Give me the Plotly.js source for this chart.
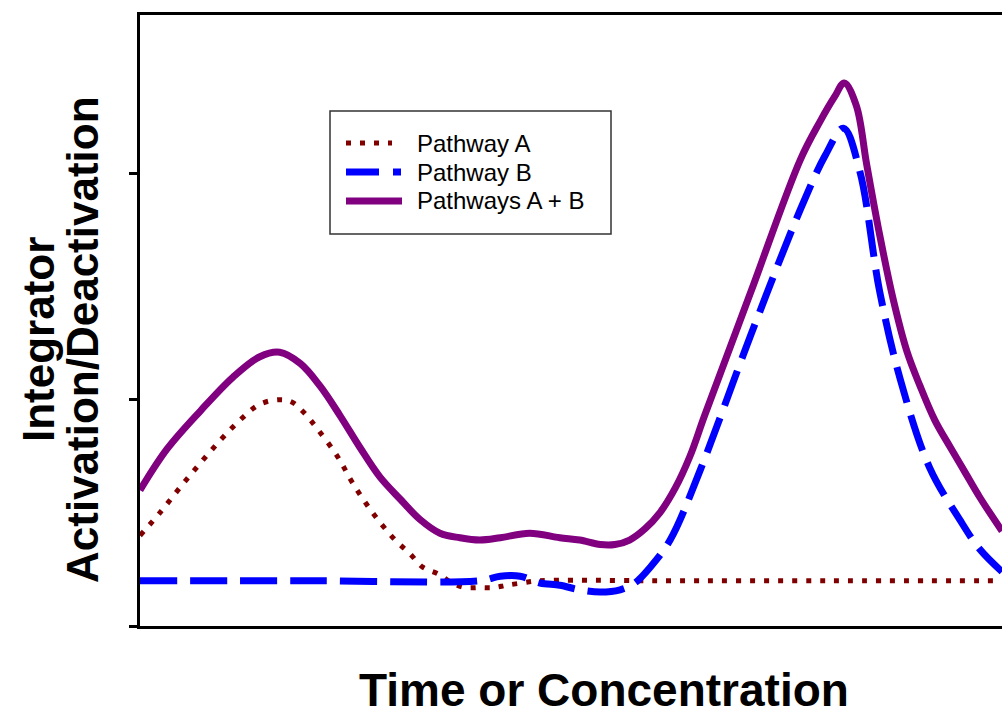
<!DOCTYPE html>
<html>
<head>
<meta charset="utf-8">
<script src="https://cdn.plot.ly/plotly-3.0.1.min.js"></script>
<style>
html, body { margin: 0; padding: 0; background: #ffffff; }
#chart { width: 1002px; height: 718px; }
</style>
</head>
<body>
<div id="chart"></div>
<script>
// ---- Data (x in arbitrary time/concentration units 0..100) ----
var seriesNames = ["Pathway A", "Pathway B", "Pathways A + B"];

var pathwayA_x = [0, 2.3, 4.6, 7.0, 9.3, 11.6, 13.9, 16.2, 17.6, 19.1, 20.6, 22.9, 24.7, 27.0, 29.6, 31.3, 32.8, 34.6, 36.2, 37.7, 39.4, 41.1, 42.5, 44.3, 46.4, 60, 80, 100];
var pathwayA_y = [0.40, 0.50, 0.61, 0.72, 0.82, 0.91, 0.98, 1.00, 0.99, 0.94, 0.87, 0.75, 0.63, 0.50, 0.38, 0.32, 0.26, 0.23, 0.19, 0.17, 0.17, 0.17, 0.18, 0.19, 0.20, 0.20, 0.20, 0.20];

var pathwayB_x = [0, 20, 39.4, 41.8, 44.1, 46.4, 48.7, 51.0, 53.4, 55.7, 57.4, 59.2, 61.5, 65.0, 70.8, 76.6, 79.5, 81.6, 83.5, 85.8, 88.2, 91.6, 95.1, 97.4, 100];
var pathwayB_y = [0.20, 0.20, 0.20, 0.22, 0.22, 0.19, 0.18, 0.16, 0.15, 0.16, 0.19, 0.26, 0.38, 0.69, 1.28, 1.84, 2.08, 2.20, 2.01, 1.48, 1.09, 0.70, 0.47, 0.34, 0.24];

var pathwayAB_x = [0, 3.1, 7.0, 10.8, 13.9, 16.2, 18.6, 20.9, 23.2, 25.5, 27.8, 30.2, 32.5, 34.8, 37.1, 39.4, 41.8, 45.2, 48.7, 51.0, 53.4, 55.1, 56.8, 58.6, 60.3, 62.1, 63.8, 65.5, 70.8, 76.6, 78.9, 80.6, 81.7, 83.1, 84.3, 85.8, 87.4, 89.0, 90.5, 92.2, 94.0, 95.7, 97.4, 100];
var pathwayAB_y = [0.60, 0.78, 0.95, 1.10, 1.19, 1.21, 1.16, 1.06, 0.93, 0.79, 0.66, 0.56, 0.47, 0.41, 0.39, 0.38, 0.39, 0.41, 0.39, 0.38, 0.36, 0.36, 0.38, 0.43, 0.50, 0.61, 0.75, 0.93, 1.47, 2.06, 2.23, 2.34, 2.40, 2.30, 2.04, 1.73, 1.44, 1.21, 1.06, 0.91, 0.79, 0.68, 0.57, 0.42];

var yTickValues = [0, 1, 2];
var xTitle = "Time or Concentration";
var yTitleLines = ["Integrator", "Activation/Deactivation"];

// ---- Styling / layout ----
var W = 1002, H = 718;
var M = { l: 140, r: 0, t: 15, b: 92 };
var plotW = W - M.l - M.r, plotH = H - M.t - M.b;
function px(xPix) { return (xPix - M.l) / plotW; }
function py(yPix) { return (H - M.b - yPix) / plotH; }

var colA = "#800000", colB = "#0000ff", colAB = "#800080";
var FONT = "Arial, 'Liberation Sans', sans-serif";
var SMOOTH = 1.0;

var traces = [
  { x: pathwayA_x, y: pathwayA_y, name: seriesNames[0], type: "scatter", mode: "lines",
    line: { color: colA, width: 5, dash: "5px,9px", shape: "spline", smoothing: SMOOTH }, showlegend: false },
  { x: pathwayB_x, y: pathwayB_y, name: seriesNames[1], type: "scatter", mode: "lines",
    line: { color: colB, width: 7, dash: "37px,13px", shape: "spline", smoothing: SMOOTH }, showlegend: false },
  { x: pathwayAB_x, y: pathwayAB_y, name: seriesNames[2], type: "scatter", mode: "lines",
    line: { color: colAB, width: 7, shape: "spline", smoothing: SMOOTH }, showlegend: false }
];

// Legend drawn as box + sample lines + text
var legRows = [143, 172, 201];
var shapes = [
  { type: "rect", xref: "paper", yref: "paper", x0: px(330), x1: px(611), y0: py(234), y1: py(111),
    line: { color: "#333333", width: 1.5 }, fillcolor: "rgba(255,255,255,1)", layer: "below" },
  { type: "line", xref: "paper", yref: "paper", x0: px(346), x1: px(392), y0: py(legRows[0]), y1: py(legRows[0]),
    line: { color: colA, width: 5, dash: "5px,9px" } },
  { type: "line", xref: "paper", yref: "paper", x0: px(346), x1: px(401), y0: py(legRows[1]), y1: py(legRows[1]),
    line: { color: colB, width: 7, dash: "33px,14px" } },
  { type: "line", xref: "paper", yref: "paper", x0: px(346), x1: px(402), y0: py(legRows[2]), y1: py(legRows[2]),
    line: { color: colAB, width: 7 } }
];

var annotations = [];
for (var i = 0; i < seriesNames.length; i++) {
  annotations.push({ xref: "paper", yref: "paper", x: px(415), y: py(legRows[i]), xanchor: "left", yanchor: "middle",
    text: seriesNames[i], showarrow: false, font: { family: FONT, size: 24, color: "#000" } });
}
annotations.push({ xref: "paper", yref: "paper", x: px(604), y: py(717.5), xanchor: "center", yanchor: "bottom",
  text: "<b>" + xTitle + "</b>", showarrow: false, font: { family: FONT, size: 46, color: "#000" } });
annotations.push({ xref: "paper", yref: "paper", x: px(38), y: py(340), xanchor: "center", yanchor: "middle",
  text: "<b>" + yTitleLines[0] + "</b>", textangle: -90, showarrow: false, font: { family: FONT, size: 44, color: "#000" } });
annotations.push({ xref: "paper", yref: "paper", x: px(82), y: py(340), xanchor: "center", yanchor: "middle",
  text: "<b>" + yTitleLines[1] + "</b>", textangle: -90, showarrow: false, font: { family: FONT, size: 44, color: "#000" } });

var layout = {
  width: W, height: H,
  margin: M,
  paper_bgcolor: "#ffffff", plot_bgcolor: "#ffffff",
  showlegend: false,
  font: { family: FONT, color: "#000" },
  xaxis: { range: [0, 100], showline: true, linecolor: "#000", linewidth: 3, mirror: true,
    ticks: "", showticklabels: false, showgrid: false, zeroline: false, fixedrange: true },
  yaxis: { range: [0, 2.7], showline: true, linecolor: "#000", linewidth: 3, mirror: false,
    tickmode: "array", tickvals: yTickValues, ticks: "outside", ticklen: 8, tickwidth: 3, tickcolor: "#000",
    showticklabels: false, showgrid: false, zeroline: false, fixedrange: true },
  shapes: shapes,
  annotations: annotations
};

Plotly.newPlot("chart", traces, layout, { displayModeBar: false, staticPlot: true });
</script>
</body>
</html>
